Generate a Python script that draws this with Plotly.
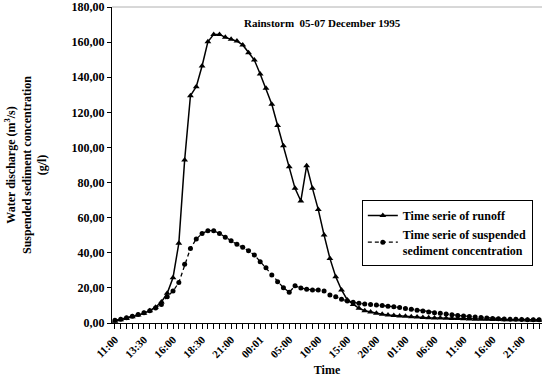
import plotly.graph_objects as go

TIMES = [
    "11:00", "11:30", "12:00", "12:30", "13:00", "13:30", "14:00", "14:30", "15:00", "15:30",
    "16:00", "16:30", "17:00", "17:30", "18:00", "18:30", "19:00", "19:30", "20:00", "20:30",
    "21:00", "21:30", "22:00", "23:00", "23:30", "00:01", "01:00", "02:00", "03:00", "04:00",
    "05:00", "06:00", "07:00", "08:00", "09:00", "10:00", "11:00", "12:00", "13:00", "14:00",
    "15:00", "16:00", "17:00", "18:00", "19:00", "20:00", "21:00", "22:00", "23:00", "00:00",
    "01:00", "02:00", "03:00", "04:00", "05:00", "06:00", "07:00", "08:00", "09:00", "10:00",
    "11:00", "12:00", "13:00", "14:00", "15:00", "16:00", "17:00", "18:00", "19:00", "20:00",
    "21:00", "22:00", "23:00", "00:00",
]

RUNOFF = [
    1.0, 1.8, 2.6, 3.5, 4.5, 5.6, 7.0, 9.0, 12.0, 16.9,
    25.8, 45.4, 92.8, 129.5, 134.6, 146.4, 160.2, 164.4, 164.4, 162.7,
    161.6, 160.6, 158.4, 154.0, 149.8, 141.8, 133.7, 124.6, 112.5, 101.0,
    89.0, 76.7, 69.5, 89.6, 76.7, 64.6, 50.1, 36.8, 26.4, 18.8,
    13.1, 10.6, 8.4, 7.0, 6.2, 5.6, 5.0, 4.6, 4.3, 4.0,
    3.8, 3.6, 3.4, 3.2, 3.0, 2.9, 2.8, 2.7, 2.6, 2.5,
    2.4, 2.3, 2.2, 2.2, 2.1, 2.0, 2.0, 1.9, 1.9, 1.8,
    1.8, 1.7, 1.6, 1.6,
]

SEDIMENT = [
    1.5, 2.2, 3.0, 3.8, 4.8, 5.8, 7.0, 8.5, 10.5, 15.0,
    18.2, 23.0, 33.4, 42.5, 47.8, 51.0, 52.6, 52.6, 51.0, 48.8,
    46.9, 44.8, 43.1, 41.2, 38.7, 34.9, 31.5, 27.3, 23.5, 20.1,
    17.5, 21.2, 19.9, 19.2, 18.8, 18.8, 18.2, 15.9, 15.0, 13.5,
    12.5, 11.8, 11.2, 10.8, 10.5, 10.2, 9.9, 9.6, 9.3, 8.8,
    8.3, 7.8, 7.3, 6.8, 6.3, 5.9, 5.5, 5.1, 4.7, 4.3,
    4.0, 3.7, 3.4, 3.1, 2.8, 2.6, 2.4, 2.3, 2.2, 2.1,
    2.0, 1.9, 1.8, 1.8,
]

Y_TICKS = list(range(0, 181, 20))

X = list(range(len(TIMES)))
FONT = "Liberation Serif, Times New Roman, serif"

fig = go.Figure()
fig.add_trace(go.Scatter(
    x=X, y=RUNOFF, mode="lines+markers", name="<b>Time serie of runoff</b>",
    line=dict(color="black", width=1.5),
    marker=dict(symbol="triangle-up", size=6, color="black"),
))
fig.add_trace(go.Scatter(
    x=X, y=SEDIMENT, mode="lines+markers",
    name="<b>Time serie of suspended<br>sediment concentration</b>",
    line=dict(color="black", width=1.3, dash="4px,3px"),
    marker=dict(symbol="circle", size=5, color="black"),
))

fig.update_layout(
    width=542, height=381,
    margin=dict(l=112, r=0, t=7, b=58),
    paper_bgcolor="white", plot_bgcolor="white",
    font=dict(family=FONT, size=12, color="black"),
    showlegend=True,
    legend=dict(
        x=0.581, y=0.389, xanchor="left", yanchor="top",
        bordercolor="black", borderwidth=1, bgcolor="white",
        font=dict(family=FONT, size=12, color="black"),
        tracegroupgap=4, itemwidth=30,
    ),
    annotations=[
        dict(text="<b>Rainstorm  05-07 December 1995</b>", x=0.49, y=0.975,
             xref="paper", yref="paper", xanchor="center", yanchor="top",
             showarrow=False, font=dict(family=FONT, size=11, color="black")),
        dict(text="<b>Water discharge (m<sup>3</sup>/s)<br>Suspended sediment concentration<br>(g/l)</b>",
             x=-0.2, y=0.5, xref="paper", yref="paper", xanchor="center", yanchor="middle",
             textangle=-90, showarrow=False, font=dict(family=FONT, size=12, color="black")),
    ],
    shapes=[
        dict(type="line", xref="paper", yref="paper", x0=0, x1=1, y0=1, y1=1,
             line=dict(color="#b0b0b0", width=1)),
    ],
)

fig.update_xaxes(
    range=[-0.5, len(TIMES) - 0.5],
    tickmode="array", tickvals=X[::5], ticktext=["<b>%s</b>" % t for t in TIMES[::5]],
    tickangle=-45, ticks="outside", ticklen=5, tickcolor="black",
    minor=dict(dtick=1, ticks="outside", ticklen=5, tickcolor="black", tick0=0),
    showline=True, linecolor="black", linewidth=1,
    showgrid=False, zeroline=False,
    tickfont=dict(family=FONT, size=11, color="black"),
    title=dict(text="<b>Time</b>", font=dict(family=FONT, size=12, color="black"), standoff=6),
)
fig.update_yaxes(
    range=[0, 180],
    tickmode="array", tickvals=Y_TICKS,
    ticktext=["<b>%d,00</b>" % v for v in Y_TICKS],
    ticks="outside", ticklen=4, tickcolor="black",
    showline=True, linecolor="black", linewidth=1,
    showgrid=False, zeroline=False,
    tickfont=dict(family=FONT, size=12, color="black"),
)
fig.update_traces(cliponaxis=False)

fig.write_html("out.html")
